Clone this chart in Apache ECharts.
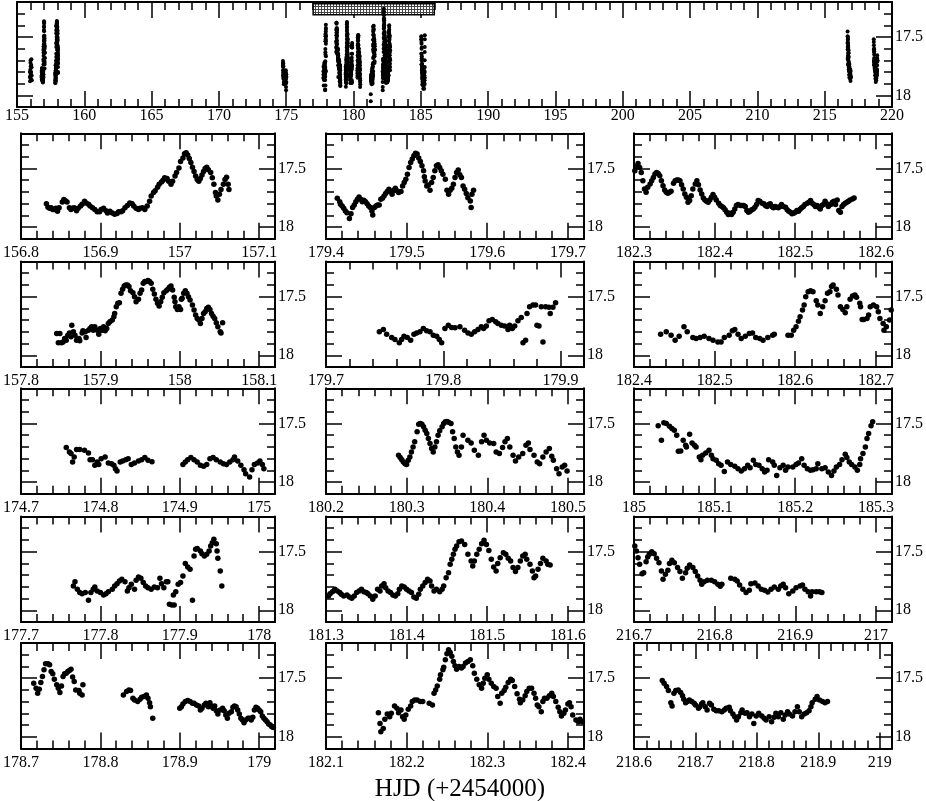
<!DOCTYPE html>
<html><head><meta charset="utf-8">
<script src="https://cdn.jsdelivr.net/npm/echarts@6/dist/echarts.min.js"></script>
<style>html,body{margin:0;padding:0;background:#fff}#c{width:926px;height:801px}</style>
</head><body><div id="c"></div><script>
// ---------- DATA (HJD-2454000, magnitude) ----------
const d156_8=[[156.832,17.80],[156.834,17.83],[156.836,17.84],[156.838,17.835],[156.840,17.85],[156.842,17.85],[156.844,17.84],[156.846,17.865],[156.848,17.835],[156.852,17.785],[156.854,17.765],[156.856,17.775],[156.858,17.785],[156.861,17.835],[156.863,17.85],[156.865,17.84],[156.867,17.835],[156.870,17.86],[156.872,17.84],[156.875,17.82],[156.877,17.805],[156.880,17.78],[156.882,17.795],[156.885,17.805],[156.887,17.82],[156.890,17.835],[156.893,17.85],[156.896,17.87],[156.899,17.87],[156.901,17.85],[156.904,17.84],[156.907,17.86],[156.909,17.88],[156.912,17.865],[156.915,17.88],[156.918,17.89],[156.921,17.885],[156.923,17.87],[156.926,17.87],[156.928,17.86],[156.931,17.835],[156.934,17.815],[156.937,17.795],[156.940,17.80],[156.942,17.82],[156.945,17.84],[156.948,17.85],[156.950,17.84],[156.953,17.835],[156.956,17.85],[156.959,17.82],[156.962,17.78],[156.964,17.735],[156.967,17.705],[156.969,17.69],[156.972,17.66],[156.974,17.635],[156.977,17.615],[156.979,17.60],[156.981,17.58],[156.984,17.585],[156.986,17.61],[156.989,17.635],[156.991,17.61],[156.994,17.565],[156.996,17.535],[156.999,17.495],[157.001,17.44],[157.004,17.41],[157.006,17.375],[157.008,17.365],[157.010,17.385],[157.012,17.415],[157.014,17.45],[157.016,17.49],[157.018,17.525],[157.020,17.565],[157.022,17.595],[157.024,17.61],[157.026,17.585],[157.028,17.555],[157.030,17.525],[157.032,17.50],[157.034,17.49],[157.036,17.51],[157.039,17.535],[157.041,17.58],[157.043,17.635],[157.045,17.705],[157.046,17.735],[157.048,17.77],[157.050,17.72],[157.052,17.68],[157.055,17.635],[157.057,17.595],[157.059,17.575],[157.061,17.635],[157.062,17.68]];
const d179_4=[[179.414,17.754],[179.417,17.783],[179.418,17.806],[179.420,17.82],[179.422,17.84],[179.424,17.863],[179.426,17.877],[179.429,17.926],[179.431,17.886],[179.433,17.834],[179.435,17.811],[179.437,17.783],[179.439,17.763],[179.441,17.743],[179.443,17.763],[179.445,17.783],[179.447,17.771],[179.449,17.783],[179.451,17.80],[179.453,17.82],[179.455,17.834],[179.457,17.863],[179.458,17.897],[179.460,17.834],[179.462,17.82],[179.464,17.811],[179.466,17.811],[179.468,17.763],[179.470,17.754],[179.472,17.734],[179.474,17.714],[179.476,17.697],[179.478,17.677],[179.480,17.697],[179.482,17.72],[179.484,17.686],[179.486,17.669],[179.488,17.691],[179.490,17.706],[179.493,17.697],[179.495,17.649],[179.497,17.62],[179.499,17.591],[179.501,17.549],[179.503,17.491],[179.505,17.449],[179.507,17.42],[179.509,17.391],[179.511,17.371],[179.513,17.377],[179.515,17.411],[179.517,17.44],[179.519,17.477],[179.521,17.52],[179.522,17.571],[179.523,17.606],[179.525,17.649],[179.527,17.64],[179.529,17.686],[179.531,17.62],[179.533,17.577],[179.535,17.52],[179.537,17.477],[179.539,17.469],[179.541,17.491],[179.543,17.52],[179.545,17.549],[179.548,17.591],[179.550,17.686],[179.552,17.72],[179.554,17.686],[179.556,17.669],[179.558,17.634],[179.560,17.577],[179.562,17.534],[179.564,17.514],[179.566,17.554],[179.568,17.577],[179.570,17.649],[179.572,17.677],[179.574,17.714],[179.576,17.749],[179.579,17.777],[179.580,17.834],[179.581,17.72],[179.583,17.686]];
const d182_3=[[182.301,17.520],[182.303,17.486],[182.305,17.458],[182.307,17.492],[182.309,17.534],[182.311,17.605],[182.313,17.675],[182.315,17.703],[182.317,17.661],[182.320,17.633],[182.322,17.605],[182.324,17.576],[182.326,17.548],[182.328,17.534],[182.330,17.542],[182.332,17.562],[182.334,17.605],[182.336,17.647],[182.338,17.684],[182.340,17.703],[182.342,17.712],[182.344,17.703],[182.346,17.695],[182.349,17.627],[182.351,17.605],[182.353,17.599],[182.355,17.599],[182.357,17.605],[182.359,17.638],[182.361,17.675],[182.363,17.718],[182.365,17.746],[182.367,17.788],[182.369,17.774],[182.371,17.732],[182.373,17.675],[182.376,17.633],[182.378,17.605],[182.380,17.638],[182.382,17.684],[182.384,17.718],[182.386,17.751],[182.388,17.768],[182.390,17.780],[182.392,17.788],[182.394,17.768],[182.396,17.746],[182.398,17.723],[182.400,17.746],[182.402,17.768],[182.405,17.797],[182.407,17.816],[182.409,17.825],[182.411,17.836],[182.413,17.853],[182.415,17.873],[182.417,17.893],[182.419,17.881],[182.421,17.893],[182.423,17.873],[182.425,17.845],[182.427,17.816],[182.429,17.808],[182.432,17.816],[182.434,17.816],[182.436,17.816],[182.438,17.825],[182.440,17.859],[182.442,17.873],[182.444,17.864],[182.446,17.853],[182.448,17.845],[182.450,17.831],[182.452,17.808],[182.454,17.774],[182.456,17.780],[182.459,17.797],[182.461,17.802],[182.463,17.816],[182.465,17.825],[182.467,17.808],[182.469,17.802],[182.471,17.825],[182.473,17.836],[182.475,17.825],[182.477,17.831],[182.479,17.836],[182.481,17.825],[182.483,17.808],[182.485,17.825],[182.488,17.831],[182.490,17.853],[182.492,17.864],[182.494,17.873],[182.496,17.887],[182.498,17.881],[182.500,17.873],[182.502,17.859],[182.504,17.864],[182.506,17.847],[182.508,17.836],[182.510,17.825],[182.512,17.808],[182.515,17.797],[182.517,17.788],[182.519,17.774],[182.521,17.797],[182.523,17.808],[182.525,17.825],[182.527,17.816],[182.529,17.831],[182.531,17.845],[182.533,17.816],[182.535,17.808],[182.537,17.780],[182.539,17.802],[182.541,17.825],[182.544,17.808],[182.546,17.788],[182.548,17.780],[182.550,17.808],[182.552,17.768],[182.554,17.859],[182.556,17.873],[182.558,17.825],[182.560,17.808],[182.562,17.797],[182.564,17.788],[182.566,17.780],[182.568,17.768],[182.571,17.760],[182.573,17.751]];
const d157_8=[[157.845,17.814],[157.847,17.894],[157.849,17.814],[157.851,17.894],[157.853,17.886],[157.855,17.857],[157.857,17.871],[157.859,17.829],[157.861,17.809],[157.863,17.843],[157.864,17.743],[157.866,17.80],[157.868,17.829],[157.870,17.871],[157.873,17.857],[157.874,17.877],[157.877,17.809],[157.878,17.791],[157.881,17.80],[157.882,17.849],[157.885,17.786],[157.887,17.771],[157.889,17.757],[157.891,17.786],[157.893,17.757],[157.896,17.786],[157.898,17.82],[157.900,17.771],[157.902,17.786],[157.904,17.757],[157.906,17.791],[157.908,17.771],[157.910,17.729],[157.912,17.714],[157.915,17.70],[157.917,17.671],[157.918,17.643],[157.920,17.586],[157.922,17.557],[157.924,17.551],[157.926,17.471],[157.928,17.437],[157.930,17.409],[157.932,17.40],[157.934,17.40],[157.936,17.414],[157.938,17.449],[157.941,17.466],[157.943,17.50],[157.945,17.543],[157.948,17.523],[157.950,17.471],[157.952,17.443],[157.954,17.386],[157.956,17.371],[157.958,17.371],[157.960,17.363],[157.962,17.371],[157.964,17.386],[157.966,17.437],[157.968,17.477],[157.970,17.523],[157.972,17.557],[157.974,17.58],[157.976,17.543],[157.978,17.506],[157.980,17.466],[157.983,17.449],[157.985,17.437],[157.987,17.42],[157.989,17.409],[157.991,17.443],[157.993,17.506],[157.994,17.543],[157.995,17.586],[157.997,17.609],[157.999,17.586],[158.001,17.609],[158.002,17.523],[158.003,17.514],[158.005,17.471],[158.007,17.449],[158.009,17.471],[158.011,17.50],[158.013,17.529],[158.016,17.571],[158.018,17.614],[158.020,17.657],[158.022,17.686],[158.024,17.70],[158.026,17.729],[158.028,17.686],[158.030,17.643],[158.032,17.629],[158.034,17.60],[158.036,17.591],[158.038,17.609],[158.040,17.643],[158.042,17.666],[158.044,17.686],[158.046,17.723],[158.048,17.757],[158.051,17.80],[158.052,17.809],[158.054,17.723]];
const d179_7=[[179.7455,17.80],[179.7489,17.78],[179.7517,17.82],[179.756,17.849],[179.7588,17.866],[179.7625,17.894],[179.7645,17.866],[179.7665,17.837],[179.7693,17.849],[179.7722,17.871],[179.775,17.82],[179.7773,17.809],[179.7801,17.80],[179.783,17.771],[179.7858,17.791],[179.7887,17.80],[179.7915,17.829],[179.7944,17.837],[179.7966,17.866],[179.7986,17.894],[179.8014,17.771],[179.8043,17.743],[179.8071,17.763],[179.81,17.766],[179.8142,17.757],[179.8182,17.786],[179.8211,17.809],[179.8239,17.82],[179.8268,17.80],[179.8296,17.78],[179.8324,17.757],[179.8344,17.771],[179.8367,17.751],[179.839,17.706],[179.8418,17.694],[179.8447,17.714],[179.8466,17.729],[179.8495,17.743],[179.8523,17.751],[179.8552,17.78],[179.8566,17.743],[179.8588,17.771],[179.8609,17.751],[179.8637,17.706],[179.8665,17.677],[179.868,17.894],[179.8702,17.871],[179.8714,17.643],[179.8736,17.586],[179.8765,17.571],[179.8787,17.571],[179.8799,17.743],[179.8816,17.751],[179.8836,17.586],[179.885,17.886],[179.8873,17.586],[179.8901,17.591],[179.8912,17.643],[179.8935,17.591],[179.8958,17.551]];
const d182_4=[[182.433,17.82],[182.440,17.80],[182.446,17.829],[182.451,17.871],[182.456,17.837],[182.462,17.757],[182.466,17.80],[182.473,17.849],[182.477,17.857],[182.482,17.849],[182.487,17.837],[182.493,17.857],[182.498,17.871],[182.504,17.886],[182.508,17.886],[182.512,17.849],[182.518,17.829],[182.522,17.791],[182.525,17.78],[182.529,17.82],[182.533,17.857],[182.538,17.837],[182.543,17.814],[182.547,17.809],[182.551,17.849],[182.556,17.857],[182.560,17.871],[182.566,17.849],[182.572,17.829],[182.574,17.82],[182.591,17.829],[182.595,17.829],[182.598,17.786],[182.601,17.757],[182.604,17.709],[182.606,17.671],[182.609,17.614],[182.611,17.571],[182.613,17.50],[182.616,17.457],[182.619,17.449],[182.622,17.457],[182.626,17.534],[182.628,17.571],[182.631,17.643],[182.634,17.586],[182.637,17.534],[182.640,17.471],[182.643,17.457],[182.645,17.414],[182.647,17.40],[182.651,17.437],[182.653,17.486],[182.656,17.586],[182.659,17.609],[182.662,17.637],[182.664,17.586],[182.668,17.523],[182.671,17.494],[182.674,17.486],[182.676,17.506],[182.680,17.557],[182.681,17.586],[182.683,17.694],[182.685,17.694],[182.689,17.686],[182.691,17.657],[182.693,17.586],[182.697,17.571],[182.701,17.586],[182.703,17.629],[182.705,17.686],[182.709,17.729],[182.710,17.786],[182.713,17.757],[182.717,17.70],[182.719,17.614]];
const d174_7=[[174.757,17.706],[174.761,17.743],[174.763,17.757],[174.765,17.829],[174.767,17.786],[174.770,17.723],[174.774,17.723],[174.780,17.729],[174.785,17.751],[174.787,17.809],[174.790,17.809],[174.793,17.857],[174.796,17.829],[174.798,17.849],[174.801,17.80],[174.806,17.786],[174.810,17.837],[174.814,17.843],[174.817,17.857],[174.819,17.886],[174.821,17.906],[174.825,17.829],[174.828,17.82],[174.832,17.809],[174.835,17.80],[174.839,17.849],[174.843,17.837],[174.848,17.82],[174.852,17.809],[174.856,17.791],[174.860,17.814],[174.865,17.826],[174.904,17.849],[174.907,17.829],[174.910,17.809],[174.914,17.791],[174.918,17.809],[174.922,17.829],[174.926,17.857],[174.930,17.866],[174.934,17.849],[174.938,17.80],[174.942,17.791],[174.946,17.809],[174.951,17.829],[174.955,17.843],[174.959,17.849],[174.963,17.829],[174.967,17.809],[174.969,17.786],[174.973,17.82],[174.977,17.857],[174.981,17.894],[174.983,17.929],[174.988,17.957],[174.991,17.894],[174.994,17.849],[174.998,17.837],[175.001,17.82],[175.004,17.849],[175.006,17.886]];
const d180_2=[[180.290,17.771],[180.292,17.791],[180.294,17.809],[180.296,17.829],[180.298,17.843],[180.300,17.849],[180.302,17.814],[180.304,17.786],[180.306,17.743],[180.308,17.70],[180.310,17.657],[180.313,17.571],[180.315,17.506],[180.317,17.50],[180.319,17.506],[180.321,17.529],[180.323,17.557],[180.325,17.586],[180.327,17.629],[180.329,17.671],[180.331,17.714],[180.333,17.743],[180.335,17.70],[180.337,17.657],[180.339,17.60],[180.341,17.563],[180.344,17.529],[180.346,17.50],[180.348,17.486],[180.350,17.483],[180.352,17.489],[180.355,17.50],[180.357,17.571],[180.359,17.629],[180.361,17.70],[180.363,17.743],[180.365,17.771],[180.368,17.70],[180.370,17.60],[180.376,17.643],[180.380,17.666],[180.384,17.729],[180.389,17.771],[180.393,17.657],[180.396,17.60],[180.399,17.643],[180.403,17.666],[180.408,17.671],[180.411,17.743],[180.415,17.757],[180.419,17.706],[180.422,17.657],[180.425,17.629],[180.428,17.70],[180.432,17.771],[180.435,17.82],[180.439,17.786],[180.444,17.757],[180.448,17.686],[180.451,17.666],[180.453,17.723],[180.458,17.771],[180.462,17.829],[180.465,17.843],[180.469,17.786],[180.473,17.743],[180.477,17.714],[180.480,17.78],[180.482,17.814],[180.486,17.886],[180.489,17.929],[180.493,17.871],[180.496,17.857],[180.499,17.906]];
const d185_0=[[185.030,17.52],[185.034,17.643],[185.037,17.494],[185.040,17.50],[185.044,17.523],[185.047,17.543],[185.050,17.557],[185.053,17.60],[185.055,17.737],[185.058,17.734],[185.061,17.643],[185.064,17.686],[185.065,17.70],[185.069,17.591],[185.072,17.666],[185.075,17.686],[185.077,17.70],[185.081,17.786],[185.083,17.809],[185.085,17.771],[185.089,17.751],[185.093,17.729],[185.096,17.771],[185.098,17.80],[185.102,17.814],[185.105,17.843],[185.108,17.857],[185.112,17.909],[185.116,17.829],[185.120,17.849],[185.125,17.866],[185.129,17.886],[185.133,17.906],[185.137,17.886],[185.141,17.857],[185.144,17.877],[185.148,17.814],[185.151,17.849],[185.155,17.857],[185.159,17.886],[185.162,17.914],[185.165,17.90],[185.167,17.809],[185.172,17.829],[185.174,17.857],[185.177,17.943],[185.181,17.877],[185.185,17.857],[185.188,17.90],[185.191,17.871],[185.197,17.871],[185.201,17.849],[185.204,17.837],[185.208,17.80],[185.211,17.857],[185.215,17.886],[185.219,17.90],[185.222,17.894],[185.226,17.886],[185.228,17.843],[185.233,17.886],[185.237,17.877],[185.241,17.914],[185.245,17.943],[185.248,17.906],[185.251,17.871],[185.255,17.849],[185.258,17.809],[185.262,17.763],[185.264,17.791],[185.267,17.829],[185.270,17.849],[185.274,17.871],[185.277,17.90],[185.280,17.849],[185.281,17.80],[185.284,17.757],[185.287,17.70],[185.289,17.629],[185.291,17.586],[185.294,17.52],[185.296,17.486]];
const d177_7=[[177.766,17.793],[177.768,17.756],[177.771,17.821],[177.774,17.849],[177.777,17.858],[177.781,17.849],[177.785,17.915],[177.788,17.849],[177.791,17.821],[177.793,17.801],[177.796,17.835],[177.800,17.849],[177.804,17.869],[177.807,17.858],[177.810,17.841],[177.815,17.821],[177.818,17.793],[177.821,17.773],[177.824,17.75],[177.827,17.736],[177.831,17.756],[177.834,17.835],[177.836,17.807],[177.839,17.778],[177.843,17.821],[177.845,17.744],[177.848,17.716],[177.851,17.727],[177.854,17.764],[177.857,17.793],[177.860,17.807],[177.864,17.821],[177.868,17.801],[177.872,17.807],[177.875,17.727],[177.877,17.773],[177.880,17.807],[177.883,17.756],[177.885,17.756],[177.887,17.949],[177.890,17.955],[177.893,17.955],[177.892,17.869],[177.895,17.841],[177.898,17.778],[177.901,17.764],[177.904,17.707],[177.907,17.602],[177.910,17.631],[177.913,17.651],[177.916,17.915],[177.918,17.537],[177.920,17.48],[177.922,17.472],[177.926,17.494],[177.928,17.517],[177.931,17.537],[177.934,17.523],[177.937,17.494],[177.939,17.452],[177.941,17.423],[177.943,17.395],[177.946,17.432],[177.947,17.494],[177.948,17.557],[177.951,17.665],[177.953,17.793]];
const d181_3=[[181.303,17.878],[181.305,17.858],[181.308,17.841],[181.311,17.821],[181.314,17.835],[181.317,17.849],[181.319,17.864],[181.322,17.878],[181.326,17.869],[181.329,17.886],[181.332,17.898],[181.335,17.878],[181.338,17.849],[181.341,17.835],[181.344,17.821],[181.347,17.841],[181.350,17.849],[181.352,17.858],[181.355,17.878],[181.358,17.906],[181.361,17.878],[181.364,17.821],[181.367,17.835],[181.369,17.793],[181.372,17.773],[181.374,17.807],[181.377,17.835],[181.380,17.849],[181.383,17.869],[181.386,17.878],[181.389,17.858],[181.391,17.821],[181.394,17.793],[181.397,17.801],[181.400,17.821],[181.403,17.835],[181.406,17.849],[181.409,17.886],[181.412,17.898],[181.415,17.864],[181.417,17.821],[181.420,17.793],[181.423,17.764],[181.426,17.736],[181.429,17.75],[181.431,17.793],[181.434,17.835],[181.437,17.821],[181.441,17.841],[181.444,17.821],[181.446,17.793],[181.449,17.722],[181.452,17.679],[181.454,17.608],[181.456,17.565],[181.458,17.523],[181.460,17.48],[181.462,17.452],[181.465,17.415],[181.468,17.409],[181.472,17.438],[181.476,17.523],[181.480,17.58],[181.482,17.622],[181.484,17.58],[181.487,17.523],[181.490,17.48],[181.493,17.432],[181.496,17.403],[181.499,17.438],[181.502,17.489],[181.505,17.565],[181.508,17.631],[181.511,17.665],[181.513,17.602],[181.516,17.551],[181.520,17.509],[181.523,17.523],[181.526,17.557],[181.529,17.58],[181.532,17.636],[181.535,17.67],[181.538,17.636],[181.541,17.58],[181.544,17.537],[181.547,17.523],[181.549,17.565],[181.553,17.608],[181.556,17.665],[181.558,17.722],[181.560,17.707],[181.563,17.651],[181.566,17.602],[181.569,17.557],[181.573,17.58],[181.575,17.608],[181.578,17.614]];
const d216_7=[[216.701,17.452],[216.703,17.494],[216.705,17.551],[216.707,17.608],[216.710,17.688],[216.712,17.679],[216.715,17.585],[216.717,17.545],[216.719,17.523],[216.722,17.50],[216.725,17.517],[216.728,17.557],[216.731,17.594],[216.734,17.665],[216.736,17.736],[216.739,17.693],[216.742,17.659],[216.744,17.602],[216.747,17.574],[216.750,17.594],[216.754,17.636],[216.757,17.67],[216.760,17.727],[216.764,17.679],[216.766,17.642],[216.769,17.614],[216.773,17.636],[216.776,17.67],[216.779,17.707],[216.782,17.744],[216.784,17.778],[216.787,17.756],[216.791,17.744],[216.796,17.744],[216.800,17.756],[216.804,17.778],[216.807,17.795],[216.809,17.778],[216.820,17.727],[216.825,17.736],[216.828,17.75],[216.831,17.784],[216.835,17.821],[216.839,17.849],[216.843,17.83],[216.845,17.773],[216.850,17.767],[216.854,17.793],[216.858,17.821],[216.862,17.83],[216.866,17.844],[216.870,17.821],[216.874,17.801],[216.879,17.821],[216.882,17.793],[216.885,17.778],[216.888,17.807],[216.892,17.858],[216.897,17.835],[216.901,17.807],[216.906,17.793],[216.909,17.784],[216.912,17.821],[216.916,17.841],[216.919,17.878],[216.921,17.841],[216.926,17.841],[216.930,17.841],[216.933,17.849]];
const d178_7=[[178.716,17.543],[178.719,17.586],[178.721,17.629],[178.723,17.594],[178.725,17.537],[178.727,17.486],[178.729,17.429],[178.731,17.377],[178.734,17.377],[178.736,17.386],[178.738,17.443],[178.740,17.463],[178.742,17.509],[178.745,17.557],[178.747,17.586],[178.749,17.623],[178.751,17.566],[178.753,17.486],[178.755,17.463],[178.757,17.457],[178.759,17.443],[178.761,17.434],[178.763,17.423],[178.765,17.491],[178.767,17.529],[178.769,17.60],[178.773,17.606],[178.774,17.629],[178.777,17.643],[178.778,17.557],[178.829,17.643],[178.833,17.614],[178.836,17.60],[178.838,17.606],[178.841,17.671],[178.843,17.686],[178.847,17.70],[178.850,17.68],[178.852,17.663],[178.855,17.657],[178.858,17.643],[178.860,17.671],[178.862,17.709],[178.863,17.743],[178.866,17.843],[178.900,17.757],[178.902,17.743],[178.904,17.72],[178.907,17.70],[178.910,17.691],[178.913,17.70],[178.916,17.714],[178.918,17.714],[178.921,17.729],[178.924,17.737],[178.926,17.771],[178.928,17.757],[178.931,17.729],[178.933,17.714],[178.936,17.743],[178.938,17.709],[178.940,17.737],[178.942,17.757],[178.944,17.737],[178.946,17.777],[178.948,17.806],[178.951,17.771],[178.954,17.757],[178.956,17.777],[178.958,17.814],[178.960,17.843],[178.962,17.80],[178.965,17.786],[178.967,17.749],[178.969,17.737],[178.971,17.743],[178.973,17.771],[178.975,17.806],[178.977,17.843],[178.979,17.857],[178.981,17.88],[178.983,17.857],[178.986,17.843],[178.988,17.843],[178.990,17.857],[178.992,17.834],[178.994,17.771],[178.996,17.749],[178.998,17.757],[179.000,17.771],[179.002,17.786],[179.004,17.823],[179.006,17.843],[179.008,17.857],[179.010,17.871],[179.012,17.891],[179.014,17.90],[179.016,17.914],[179.018,17.92]];
const d182_1=[[182.165,17.794],[182.167,17.886],[182.168,17.957],[182.171,17.929],[182.173,17.851],[182.176,17.806],[182.179,17.829],[182.181,17.80],[182.185,17.737],[182.188,17.757],[182.190,17.794],[182.193,17.771],[182.195,17.829],[182.197,17.851],[182.199,17.814],[182.202,17.766],[182.205,17.737],[182.207,17.70],[182.210,17.686],[182.213,17.686],[182.217,17.70],[182.220,17.70],[182.228,17.714],[182.232,17.729],[182.234,17.629],[182.236,17.60],[182.238,17.566],[182.241,17.509],[182.242,17.471],[182.245,17.429],[182.246,17.406],[182.248,17.343],[182.250,17.291],[182.252,17.257],[182.254,17.28],[182.256,17.314],[182.258,17.357],[182.260,17.394],[182.262,17.423],[182.265,17.40],[182.268,17.414],[182.270,17.40],[182.273,17.371],[182.276,17.357],[182.279,17.343],[182.282,17.394],[182.284,17.457],[182.287,17.509],[182.290,17.557],[182.293,17.586],[182.295,17.543],[182.297,17.50],[182.300,17.471],[182.302,17.509],[182.305,17.543],[182.308,17.571],[182.311,17.586],[182.313,17.657],[182.316,17.714],[182.318,17.629],[182.321,17.606],[182.323,17.577],[182.326,17.537],[182.329,17.509],[182.331,17.52],[182.334,17.571],[182.337,17.634],[182.340,17.68],[182.341,17.709],[182.344,17.686],[182.347,17.651],[182.349,17.614],[182.352,17.586],[182.355,17.586],[182.358,17.629],[182.360,17.671],[182.362,17.729],[182.364,17.743],[182.367,17.786],[182.369,17.70],[182.371,17.671],[182.374,17.671],[182.377,17.651],[182.380,17.629],[182.382,17.657],[182.385,17.70],[182.388,17.749],[182.390,17.786],[182.392,17.823],[182.395,17.80],[182.397,17.771],[182.400,17.72],[182.402,17.709],[182.404,17.743],[182.406,17.814],[182.410,17.857],[182.413,17.871],[182.415,17.851],[182.418,17.871]];
const d218_6=[[218.646,17.52],[218.649,17.543],[218.653,17.571],[218.656,17.606],[218.660,17.709],[218.662,17.737],[218.665,17.629],[218.668,17.606],[218.672,17.60],[218.676,17.623],[218.679,17.651],[218.681,17.68],[218.684,17.709],[218.687,17.70],[218.690,17.686],[218.694,17.70],[218.698,17.714],[218.700,17.729],[218.705,17.757],[218.707,17.743],[218.710,17.72],[218.712,17.709],[218.716,17.743],[218.719,17.771],[218.723,17.714],[218.726,17.729],[218.730,17.766],[218.734,17.777],[218.738,17.777],[218.743,17.786],[218.747,17.771],[218.750,17.757],[218.755,17.749],[218.757,17.777],[218.761,17.806],[218.764,17.829],[218.767,17.857],[218.770,17.829],[218.774,17.794],[218.776,17.771],[218.781,17.80],[218.784,17.794],[218.788,17.829],[218.792,17.806],[218.795,17.886],[218.799,17.823],[218.803,17.80],[218.808,17.823],[218.812,17.843],[218.815,17.857],[218.820,17.829],[218.824,17.871],[218.828,17.834],[218.831,17.80],[218.835,17.829],[218.839,17.794],[218.843,17.851],[218.846,17.814],[218.850,17.786],[218.853,17.806],[218.858,17.823],[218.862,17.786],[218.866,17.743],[218.869,17.786],[218.873,17.829],[218.877,17.806],[218.881,17.794],[218.885,17.777],[218.888,17.743],[218.890,17.709],[218.895,17.68],[218.898,17.657],[218.902,17.686],[218.907,17.70],[218.911,17.709],[218.915,17.70]];
// night at HJD ~156.0 and two faint outliers near 181.3, only seen in the overview panel
const dOverviewOnly=[[155.95,17.80],[155.96,17.84],[155.97,17.88],[155.98,17.85],[155.99,17.78],[156.00,17.72],[156.01,17.70],[156.02,17.75],[156.03,17.82],[156.04,17.86],[156.05,17.80],[156.06,17.74],[156.07,17.69],[156.08,17.76],[156.09,17.83],[156.10,17.87],[181.28,17.99],[181.28,18.05]];
// zoom panels, row by row, and their HJD ranges
const panelData=[d156_8,d179_4,d182_3,d157_8,d179_7,d182_4,d174_7,d180_2,d185_0,d177_7,d181_3,d216_7,d178_7,d182_1,d218_6];
const panelRanges=[[156.8,157.12],[179.4,179.72],[182.3,182.62],[157.8,158.12],[179.7,179.92],[182.4,182.72],[174.7,175.02],[180.2,180.52],[185.0,185.32],[177.7,178.02],[181.3,181.62],[216.7,217.02],[178.7,179.02],[182.1,182.42],[218.6,219.02]];
const overviewRange=[155,220];
const magRange=[17.2,18.1];
const magTicks=[17.5,18];
const hatchHJD=[177,186];
const hatchMag=[17.215,17.31];

// ---------- LAYOUT / STYLE ----------
const FONT="'Liberation Serif','DejaVu Serif',serif";
const colLeft=[17,326,634], rowTop=[133.3,261.5,388.3,516.5,643], PW=258, PH=105.5;
const LS={color:'#000',width:2}, TS={color:'#000',width:1.5};

const grids=[{left:17,top:2,width:875,height:105}];
for(let i=0;i<15;i++) grids.push({left:colLeft[i%3],top:rowTop[Math.floor(i/3)],width:PW,height:PH});

const xAxes=[], yAxes=[], series=[];
function fmtX(step){return v=>{const k=v/step; return Math.abs(k-Math.round(k))<1e-6?String(+v.toFixed(2)):'';};}
function addAxes(g,min,max,major,minor,margin){
  const common={type:'value',gridIndex:g,min:min,max:max,splitLine:{show:false}};
  xAxes.push(Object.assign({},common,{position:'bottom',interval:major,axisLine:{show:true,onZero:false,lineStyle:LS},axisTick:{show:true,inside:true,length:16,lineStyle:TS},axisLabel:{show:true,margin:margin,fontFamily:FONT,fontSize:16,color:'#000',formatter:fmtX(major)}}));
  xAxes.push(Object.assign({},common,{position:'bottom',interval:minor,axisLine:{show:false,onZero:false},axisTick:{show:true,inside:true,length:8,lineStyle:TS},axisLabel:{show:false}}));
  xAxes.push(Object.assign({},common,{position:'top',interval:major,axisLine:{show:true,onZero:false,lineStyle:LS},axisTick:{show:true,inside:true,length:16,lineStyle:TS},axisLabel:{show:false}}));
  xAxes.push(Object.assign({},common,{position:'top',interval:minor,axisLine:{show:false,onZero:false},axisTick:{show:true,inside:true,length:8,lineStyle:TS},axisLabel:{show:false}}));
  const yc={type:'value',gridIndex:g,min:magRange[0],max:magRange[1],inverse:true,splitLine:{show:false}};
  yAxes.push(Object.assign({},yc,{position:'left',axisLine:{show:true,onZero:false,lineStyle:LS},axisTick:{show:true,inside:true,length:16,customValues:magTicks,lineStyle:TS},axisLabel:{show:false}}));
  yAxes.push(Object.assign({},yc,{position:'left',interval:0.1,axisLine:{show:false,onZero:false},axisTick:{show:true,inside:true,length:8,lineStyle:TS},axisLabel:{show:false}}));
  yAxes.push(Object.assign({},yc,{position:'right',axisLine:{show:true,onZero:false,lineStyle:LS},axisTick:{show:true,inside:true,length:16,customValues:magTicks,lineStyle:TS},axisLabel:{show:true,customValues:magTicks,margin:3,fontFamily:FONT,fontSize:16,color:'#000'}}));
  yAxes.push(Object.assign({},yc,{position:'right',interval:0.1,axisLine:{show:false,onZero:false},axisTick:{show:true,inside:true,length:8,lineStyle:TS},axisLabel:{show:false}}));
}
addAxes(0,overviewRange[0],overviewRange[1],5,1,1);
panelRanges.forEach((r,i)=>addAxes(i+1,r[0],r[1],0.1,0.02,6));

// hatch pattern
const pc=document.createElement('canvas'); pc.width=3; pc.height=3;
const cx=pc.getContext('2d'); cx.fillStyle='#fff'; cx.fillRect(0,0,3,3); cx.fillStyle='#444'; cx.fillRect(0,0,3,1); cx.fillRect(0,0,1,3);

const allPts=[].concat(dOverviewOnly,...panelData);
series.push({type:'scatter',xAxisIndex:0,yAxisIndex:0,data:allPts,symbol:'circle',symbolSize:4,itemStyle:{color:'#000',opacity:1},
  markArea:{silent:true,itemStyle:{color:{image:pc,repeat:'repeat'},borderColor:'#000',borderWidth:1.5,opacity:1},
    data:[[{coord:[hatchHJD[0],hatchMag[0]]},{coord:[hatchHJD[1],hatchMag[1]]}]]}});
panelData.forEach((d,i)=>{
  const g=i+1;
  series.push({type:'scatter',xAxisIndex:4*g,yAxisIndex:4*g,data:d,symbol:'circle',symbolSize:5.5,itemStyle:{color:'#000',opacity:1}});
});

const chart=echarts.init(document.getElementById('c'),null,{renderer:'canvas',width:926,height:801});
chart.setOption({
  animation:false, backgroundColor:'#fff',
  title:{text:'HJD (+2454000)',left:455,top:772,textAlign:'center',textStyle:{fontFamily:FONT,fontSize:25,fontWeight:'normal',color:'#000'}},
  grid:grids, xAxis:xAxes, yAxis:yAxes, series:series
});
</script></body></html>
